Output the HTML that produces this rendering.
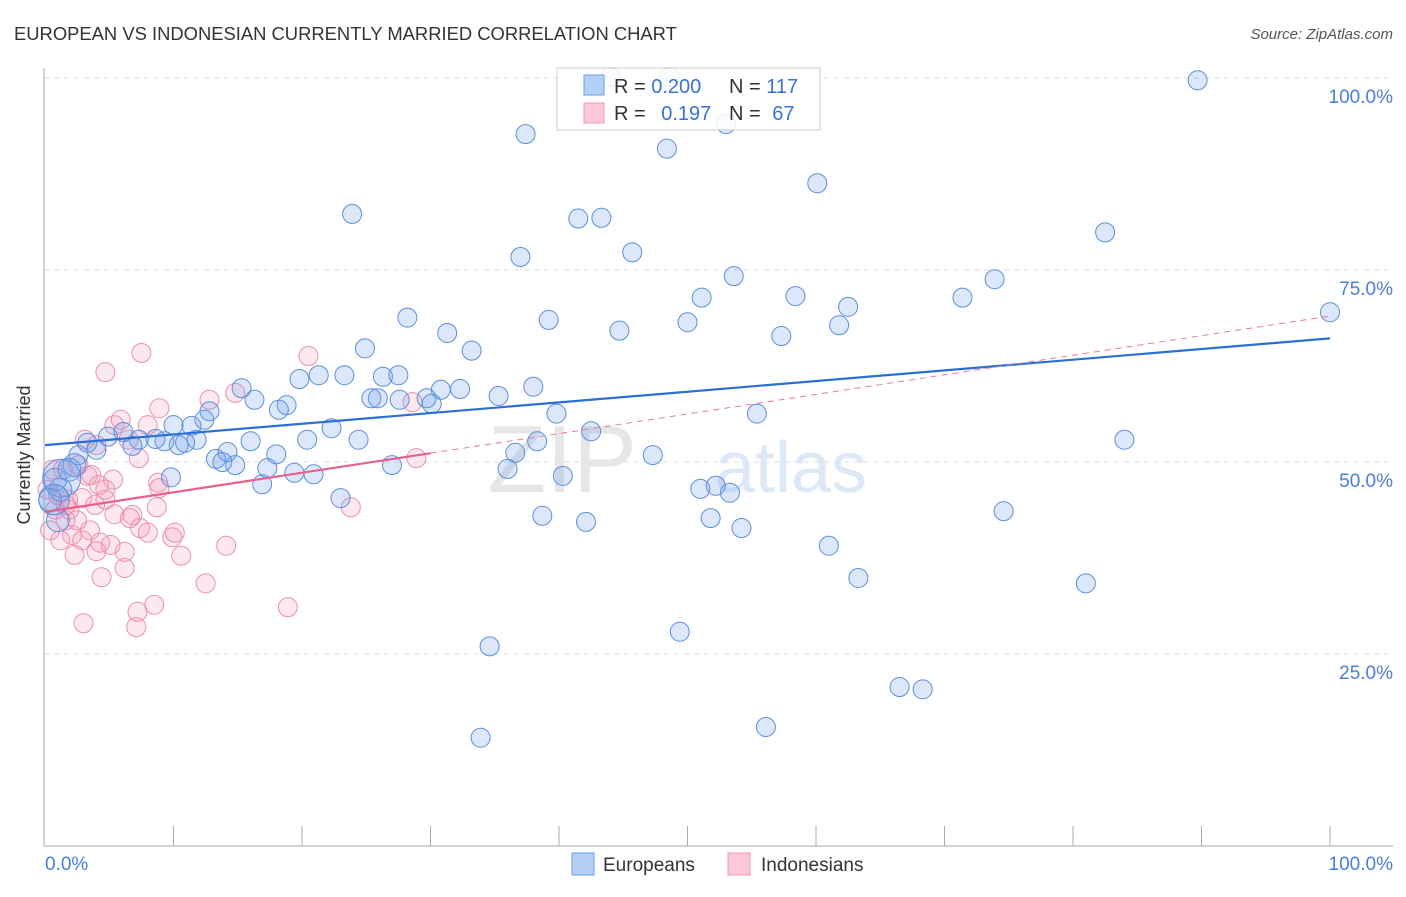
<!DOCTYPE html>
<html><head><meta charset="utf-8"><style>
body{margin:0;background:#fff;font-family:"Liberation Sans",sans-serif;}
svg text{font-family:"Liberation Sans",sans-serif;}
</style></head><body>
<svg id="chart" width="1406" height="892">
<text x="14" y="40" font-size="18.4" fill="#333">EUROPEAN VS INDONESIAN CURRENTLY MARRIED CORRELATION CHART</text>
<text x="1393" y="39" font-size="15" fill="#555" font-style="italic" text-anchor="end">Source: ZipAtlas.com</text>
<g id="grid"></g>
<text x="637" y="492" font-size="96" fill="#e6e6e6" text-anchor="end" font-family="Liberation Serif">ZIP</text>
<text x="715" y="492" font-size="72" fill="#dce8f6">atlas</text>
<g id="marks"></g>
<g id="lines"></g>
<g>
<rect x="557" y="68" width="263" height="62" fill="#fff" fill-opacity="0.85" stroke="#ccc"/>
<rect x="584" y="75" width="20" height="20" fill="#b5d0f5" stroke="#6a9ee6"/>
<rect x="584" y="103" width="20" height="20" fill="#fcc8d8" stroke="#ee9ab5"/>
<text x="614" y="93" font-size="20" fill="#333">R = <tspan fill="#3a72d0">0.200</tspan></text>
<text x="729" y="93" font-size="20" fill="#333">N = <tspan fill="#3a72d0">117</tspan></text>
<text x="614" y="120" font-size="20" fill="#333">R = <tspan fill="#3a72d0" dx="10">0.197</tspan></text>
<text x="729" y="120" font-size="20" fill="#333">N = <tspan fill="#3a72d0" dx="6">67</tspan></text>
</g>
<text x="30" y="455" font-size="18" fill="#333" text-anchor="middle" transform="rotate(-90 30 455)">Currently Married</text>
<g>
<rect x="572" y="853" width="22" height="22" fill="#b5d0f5" stroke="#6a9ee6"/>
<text x="603" y="871" font-size="19" fill="#333">Europeans</text>
<rect x="728" y="853" width="22" height="22" fill="#fcc8d8" stroke="#ee9ab5"/>
<text x="761" y="871" font-size="19" fill="#333">Indonesians</text>
</g>
</svg>
<script>
const yTicks=[25,50,75,100];
const yTickLabels=["25.0%","50.0%","75.0%","100.0%"];
const xTicks=[0,10,20,30,40,50,60,70,80,90,100];
const euroX=[89.7,37.4,48.4,53.0,60.1,23.9,41.5,43.3,82.5,37.0,45.7,53.6,73.9,51.1,58.4,71.4,62.5,39.2,28.2,50.0,44.7,31.3,57.3,61.8,100,24.9,33.2,19.8,21.3,23.3,26.3,27.5,15.3,32.3,30.8,38.0,35.3,25.4,25.9,27.6,29.7,30.1,16.3,18.8,18.2,12.8,39.8,55.4,12.4,11.4,10.0,22.3,42.5,36.6,38.3,24.4,20.4,16.0,11.8,9.3,10.9,10.4,8.6,7.3,6.1,4.9,6.8,3.3,4.0,2.6,14.2,18.0,13.3,13.8,14.8,47.3,84.0,17.3,19.4,20.9,27.0,36.0,40.3,9.8,16.9,51.0,52.2,53.3,23.0,74.6,38.7,42.1,51.8,54.2,61.0,63.3,81.0,49.4,34.6,66.5,68.3,56.1,33.9,1.2,0.8,0.4,1.0,1.9,2.3,1.3,0.7,44.0,48.6];
const euroY=[99.7,92.7,90.8,94.0,86.3,82.3,81.7,81.8,79.9,76.7,77.3,74.2,73.8,71.4,71.6,71.4,70.2,68.5,68.8,68.2,67.1,66.8,66.4,67.8,69.5,64.8,64.5,60.8,61.3,61.3,61.1,61.3,59.6,59.5,59.4,59.8,58.6,58.3,58.3,58.1,58.3,57.6,58.1,57.4,56.8,56.6,56.3,56.3,55.5,54.7,54.8,54.4,54.0,51.2,52.7,52.9,52.9,52.7,52.9,52.7,52.5,52.2,53.0,52.9,53.9,53.3,52.1,52.5,51.6,50.9,51.3,51.0,50.4,50.0,49.6,50.9,52.9,49.2,48.6,48.4,49.6,49.1,48.2,48.0,47.1,46.5,46.9,46.0,45.3,43.6,43.0,42.2,42.7,41.4,39.1,34.9,34.2,27.9,26.0,20.7,20.4,15.5,14.1,46.4,47.7,45.1,42.4,49.0,49.6,47.9,45.1,100.1,100.1];
const N=euroX.length;
const euroSize=euroX.map((v,i)=>i===N-4?2.0:(i===N-3?1.6:(i>=N-10&&i<N-4?1.2:1)));
const indoX=[7.5,4.7,20.5,14.8,12.8,5.4,5.9,8.9,8.0,3.1,4.0,7.3,28.6,28.9,3.3,2.6,3.6,4.7,5.3,1.4,8.8,8.9,1.6,2.9,3.9,6.8,5.4,6.6,8.7,23.8,8.0,9.9,6.2,4.3,2.1,2.9,1.2,2.3,4.0,10.6,14.1,6.2,4.4,12.5,8.5,7.2,18.9,7.1,3.0,10.1,1.6,0.8,0.4,1.9,3.5,1.0,0.2,0.6,4.7,4.2,7.4,2.5,5.1,1.8,6.5];
const indoY=[64.2,61.7,63.8,59.0,58.1,54.8,55.5,57.0,54.8,52.9,52.2,50.5,57.8,50.5,48.2,49.6,48.3,46.4,47.7,49.0,47.3,46.6,44.4,45.3,44.4,43.1,43.2,42.7,44.1,44.1,40.8,40.2,38.3,39.5,40.5,39.8,39.8,37.9,38.4,37.8,39.1,36.2,35.0,34.2,31.4,30.5,31.1,28.5,29.0,40.8,42.4,43.8,41.1,43.8,41.1,45.7,46.4,49.0,45.1,47.0,41.4,42.4,39.2,45.1,52.9];
const euroTrend=[52.2,66.1];
const indoTrend=[43.5,69.0];
const NS="http://www.w3.org/2000/svg";
const X0=45,X1=1330,Y0=846,Y100=78;
const sx=v=>X0+(X1-X0)*v/100;
const sy=v=>Y0-(Y0-Y100)*v/100;
function mk(t,a,p){const e=document.createElementNS(NS,t);for(const k in a)e.setAttribute(k,a[k]);p.appendChild(e);return e;}
const grid=document.getElementById('grid');
yTicks.forEach((t,i)=>{
 const l=mk('line',{x1:44,x2:1393,y1:sy(t),y2:sy(t),stroke:'#dcdcdc','stroke-dasharray':'5,5'},grid);
 
 
 const tx=mk('text',{x:1393,y:sy(t)+25,'font-size':19,fill:'#4a7fd6','text-anchor':'end'},grid);
 tx.textContent=yTickLabels[i];
 
 
});
const ax=mk('line',{x1:44,x2:44,y1:68,y2:846,stroke:'#aaa'},grid);


const bx=mk('line',{x1:44,x2:1393,y1:846,y2:846,stroke:'#aaa'},grid);


xTicks.forEach(t=>{
 if(t===0)return;
 const l=mk('line',{x1:sx(t),x2:sx(t),y1:826,y2:846,stroke:'#aaa'},grid);
 
 
});
const xl0=mk('text',{x:45,y:870,'font-size':19,fill:'#4a7fd6'},grid);xl0.textContent='0.0%';


const xl1=mk('text',{x:1393,y:870,'font-size':19,fill:'#4a7fd6','text-anchor':'end'},grid);xl1.textContent='100.0%';


const marks=document.getElementById('marks');
indoX.forEach((v,i)=>{
 const c=mk('circle',{cx:sx(v),cy:sy(indoY[i]),r:9.5,fill:'rgba(244,150,180,0.22)',stroke:'#ec8fae','stroke-width':1},marks);
 
 
});
euroX.forEach((v,i)=>{
 const c=mk('circle',{cx:sx(v),cy:sy(euroY[i]),r:9.5*euroSize[i],fill:'rgba(110,160,235,0.24)',stroke:'#5b8fdc','stroke-width':1},marks);
 
 
});
const lines=document.getElementById('lines');
const tl=mk('line',{x1:sx(0),y1:sy(euroTrend[0]),x2:sx(100),y2:sy(euroTrend[1]),stroke:'#2a6fd6','stroke-width':2.2},lines);


const pe=indoTrend[0]+(indoTrend[1]-indoTrend[0])*0.3;
const pd=mk('line',{x1:sx(30),y1:sy(pe),x2:sx(100),y2:sy(indoTrend[1]),stroke:'#e87a9e','stroke-width':1,'stroke-dasharray':'6,5'},lines);


const ps=mk('line',{x1:sx(0),y1:sy(indoTrend[0]),x2:sx(30),y2:sy(pe),stroke:'#e8608c','stroke-width':2.2},lines);


</script>
</body></html>
